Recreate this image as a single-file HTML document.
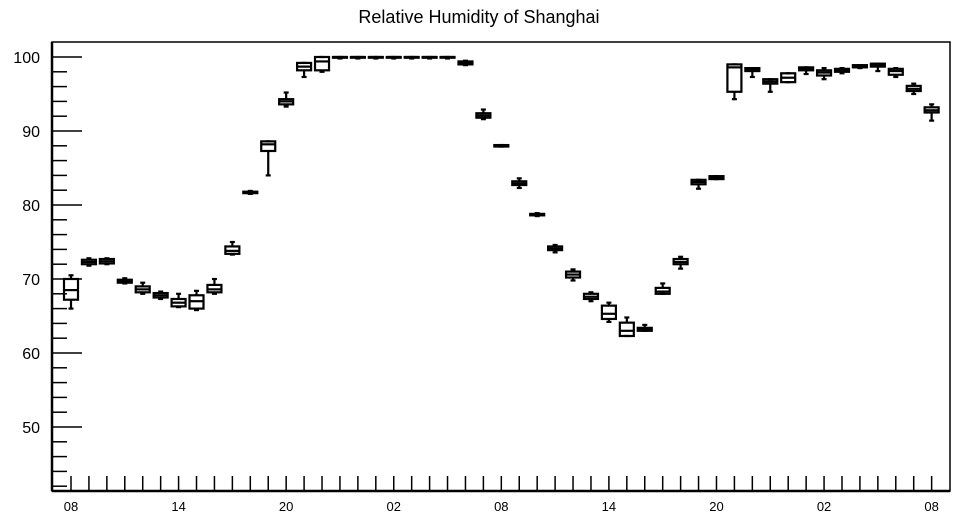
<!DOCTYPE html>
<html><head><meta charset="utf-8"><style>
body{margin:0;background:#fff}
svg{display:block;font-family:"Liberation Sans",sans-serif}
</style></head><body>
<svg id="chart" width="957" height="520"></svg>
<script>
const hourLabels=["08","09","10","11","12","13","14","15","16","17","18","19","20","21","22","23","00","01","02","03","04","05","06","07","08","09","10","11","12","13","14","15","16","17","18","19","20","21","22","23","00","01","02","03","04","05","06","07","08"];
const medians=[68.5,72.3,72.4,69.7,68.6,67.8,66.8,67,68.6,73.8,81.7,88.2,94,98.7,99.4,100,100,100,100,100,100,100,99.2,92.1,88,82.9,78.7,74.1,70.6,67.6,65.3,63,63.2,68.3,72.3,83.1,83.7,98.6,98.3,96.7,97.2,98.4,97.9,98.2,98.8,98.9,98.1,95.7,92.8];
const q1s=[67.2,72,72.1,69.5,68.2,67.5,66.3,66,68.2,73.4,81.6,87.3,93.6,98.2,98.2,99.9,99.9,99.9,99.9,99.9,99.9,99.9,99,91.8,87.9,82.7,78.6,73.9,70.2,67.3,64.6,62.3,63,68,72,82.8,83.5,95.3,98.1,96.4,96.6,98.2,97.5,98,98.6,98.7,97.6,95.4,92.5];
const q3s=[70,72.6,72.7,69.9,69,68.1,67.3,67.8,69.2,74.4,81.8,88.6,94.3,99.2,100,100,100,100,100,100,100,100,99.4,92.4,88.1,83.2,78.8,74.4,71,68,66.4,64.1,63.4,68.8,72.7,83.4,83.9,99,98.5,97,97.8,98.6,98.2,98.4,98.9,99.1,98.4,96.1,93.2];
const mins=[66,71.8,72,69.4,68,67.3,66.2,65.8,68,73.3,81.5,84,93.3,97.3,98,99.8,99.8,99.8,99.8,99.8,99.8,99.8,98.9,91.6,87.9,82.3,78.5,73.6,69.8,67,64.2,62.3,63,68,71.4,82.2,83.5,94.3,97.3,95.3,96.6,97.7,97,97.8,98.5,98.1,97.3,95,91.4];
const maxs=[70.5,72.8,72.8,70.1,69.5,68.3,68,68.4,70,75,81.9,88.6,95.2,99.2,100,100,100,100,100,100,100,100,99.5,92.9,88.1,83.6,78.9,74.6,71.3,68.2,66.8,64.8,63.8,69.4,73,83.4,83.9,99,98.5,97,97.8,98.6,98.5,98.5,98.9,99.1,98.5,96.4,93.6];
const yTicks=[50,60,70,80,90,100];
const L=52,R=950,T=42,B=491;
const x=i=>71+i*17.93;
const y=v=>57+(100-v)*7.4;
const svg=document.getElementById('chart');
const NS='http://www.w3.org/2000/svg';
function mk(t,a){const e=document.createElementNS(NS,t);for(const k in a)e.setAttribute(k,a[k]);svg.appendChild(e);return e;}
let t=mk('text',{x:479,y:23,'text-anchor':'middle','font-size':18});t.textContent='Relative Humidity of Shanghai';


let f=mk('rect',{x:L,y:T,width:R-L,height:B-T,fill:'none',stroke:'#000','stroke-width':1.5});


mk('line',{x1:L,y1:T,x2:L,y2:B,stroke:'#000','stroke-width':2.5});
mk('line',{x1:L,y1:B,x2:R,y2:B,stroke:'#000','stroke-width':2.5});
for(let v=42;v<=100;v+=2){const major=v%10===0;const yy=y(v);if(yy<T)continue;
 const l=mk('line',{x1:L,y1:yy,x2:L+(major?30:15),y2:yy,stroke:'#000','stroke-width':1.5});
 
 }
yTicks.forEach(v=>{const e=mk('text',{x:40,y:y(v)+6,'text-anchor':'end','font-size':16});e.textContent=v;
 
 });
hourLabels.forEach((h,i)=>{const l=mk('line',{x1:x(i),y1:B,x2:x(i),y2:B-15,stroke:'#000','stroke-width':1.5});
 
 
 if(i%6===0){const e=mk('text',{x:x(i),y:511,'text-anchor':'middle','font-size':13});e.textContent=h;
 
 }});
medians.forEach((m,i)=>{const cx=x(i),w=7;
 const g=document.createElementNS(NS,'g');svg.appendChild(g);
 
 
 const add=(tg,a)=>{const e=document.createElementNS(NS,tg);for(const k in a)e.setAttribute(k,a[k]);g.appendChild(e);};
 const st={stroke:'#000','stroke-width':2.2,fill:'none'};
 add('line',Object.assign({x1:cx,y1:y(maxs[i]),x2:cx,y2:y(q3s[i])},st));
 add('line',Object.assign({x1:cx,y1:y(q1s[i]),x2:cx,y2:y(mins[i])},st));
 add('line',Object.assign({x1:cx-2.5,y1:y(maxs[i]),x2:cx+2.5,y2:y(maxs[i])},st));
 add('line',Object.assign({x1:cx-2.5,y1:y(mins[i]),x2:cx+2.5,y2:y(mins[i])},st));
 add('rect',Object.assign({x:cx-w,y:y(q3s[i]),width:2*w,height:Math.max(0.5,y(q1s[i])-y(q3s[i]))},st));
 add('line',Object.assign({x1:cx-w,y1:y(m),x2:cx+w,y2:y(m)},st));
});
</script>
</body></html>
